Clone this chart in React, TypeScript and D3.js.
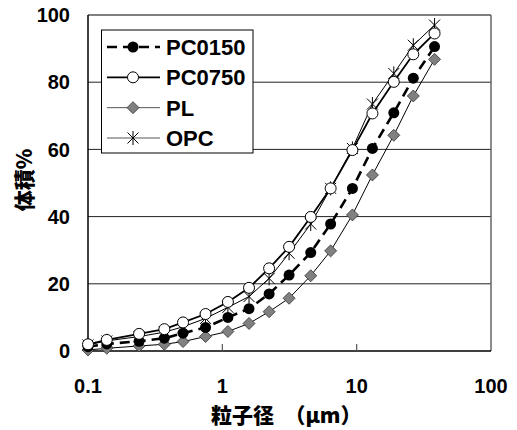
import { useRef, useEffect } from "react";
import * as d3 from "d3";

// particle size (μm), shared by all four series
const sizes = [0.1, 0.138, 0.24, 0.37, 0.51, 0.75, 1.1, 1.58, 2.23, 3.14, 4.55, 6.4, 9.3, 13.1, 18.9, 26.4, 38];

const pc0150 = [1.3, 2.1, 2.9, 3.8, 5.3, 7.0, 10, 12.6, 17, 22.6, 29.3, 37.8, 48.4, 60.3, 70.9, 81.2, 90.6];
const pc0750 = [2.0, 3.3, 5.1, 6.5, 8.5, 11, 14.6, 18.8, 24.6, 31, 39.9, 48.4, 59.8, 70.7, 80.1, 88.3, 94.5];
const pl = [0.3, 0.8, 1.5, 2.0, 2.8, 4.3, 5.8, 8.2, 11.7, 15.7, 22.4, 29.8, 40.5, 52.4, 64.2, 75.9, 86.8];
const opc = [1.8, 3.0, 4.3, 5.6, 7.2, 9.7, 13, 16.2, 21.6, 29.1, 37.8, 48.4, 60.3, 73.5, 82.6, 91, 97];

const xTicks = [0.1, 1, 10, 100];
const xTickLabels = ["0.1", "1", "10", "100"];
const yTicks = [0, 20, 40, 60, 80, 100];

type Marker = "dot" | "circle" | "diamond" | "star";

const series: {
  name: string;
  values: number[];
  marker: Marker;
  width: number;
  dash: string | null;
}[] = [
  { name: "PC0150", values: pc0150, marker: "dot", width: 2.6, dash: "10,6" },
  { name: "PC0750", values: pc0750, marker: "circle", width: 1.8, dash: null },
  { name: "PL", values: pl, marker: "diamond", width: 1, dash: null },
  { name: "OPC", values: opc, marker: "star", width: 1, dash: null },
];

const W = 517;
const H = 430;
const font = "'Liberation Sans', Arial, sans-serif";
const cjk = "'Noto Sans CJK JP', sans-serif";

function drawMarker(
  g: d3.Selection<SVGGElement, unknown, null, undefined>,
  kind: Marker,
  cx: number,
  cy: number
) {
  if (kind === "dot") {
    g.append("circle").attr("cx", cx).attr("cy", cy).attr("r", 5.5).attr("fill", "#000");
  } else if (kind === "circle") {
    g.append("circle")
      .attr("cx", cx)
      .attr("cy", cy)
      .attr("r", 5.5)
      .attr("fill", "#fff")
      .attr("stroke", "#000")
      .attr("stroke-width", 1);
  } else if (kind === "diamond") {
    const s = 6;
    g.append("path")
      .attr("d", `M${cx},${cy - s}L${cx + s},${cy}L${cx},${cy + s}L${cx - s},${cy}Z`)
      .attr("fill", "#808080")
      .attr("stroke", "#333")
      .attr("stroke-width", 0.8);
  } else {
    const s = 7;
    const d = 5.5;
    g.append("path")
      .attr(
        "d",
        `M${cx},${cy - s}L${cx},${cy + s}M${cx - d},${cy - d}L${cx + d},${cy + d}M${cx - d},${cy + d}L${cx + d},${cy - d}`
      )
      .attr("stroke", "#000")
      .attr("stroke-width", 1)
      .attr("fill", "none");
  }
}

export default function App() {
  const svgRef = useRef<SVGSVGElement>(null);

  useEffect(() => {
    if (!svgRef.current) return;
    const svg = d3.select(svgRef.current);
    svg.selectAll("*").remove();

    const x = d3.scaleLog().domain([0.1, 100]).range([88, 491]);
    const y = d3.scaleLinear().domain([0, 100]).range([351, 15]);

    const g = svg.append("g");

    // gridlines
    for (const t of yTicks.slice(1, -1)) {
      g.append("line")
        .attr("x1", x(0.1))
        .attr("x2", x(100))
        .attr("y1", y(t))
        .attr("y2", y(t))
        .attr("stroke", "#222")
        .attr("stroke-width", 1);
    }

    // frame
    g.append("line").attr("x1", x(0.1)).attr("x2", x(100)).attr("y1", y(100)).attr("y2", y(100))
      .attr("stroke", "#555").attr("stroke-width", 1.5);
    g.append("line").attr("x1", x(100)).attr("x2", x(100)).attr("y1", y(100)).attr("y2", y(0))
      .attr("stroke", "#666").attr("stroke-width", 1.5);
    g.append("line").attr("x1", x(0.1)).attr("x2", x(100)).attr("y1", y(0)).attr("y2", y(0))
      .attr("stroke", "#000").attr("stroke-width", 1.5);
    g.append("line").attr("x1", x(0.1)).attr("x2", x(0.1)).attr("y1", y(100)).attr("y2", y(0))
      .attr("stroke", "#000").attr("stroke-width", 1.5);

    // x ticks (inside)
    for (const t of xTicks.slice(1, -1)) {
      g.append("line")
        .attr("x1", x(t))
        .attr("x2", x(t))
        .attr("y1", y(0))
        .attr("y2", y(0) - 7)
        .attr("stroke", "#555")
        .attr("stroke-width", 1.2);
    }

    // tick labels
    xTicks.forEach((t, i) => {
      g.append("text")
        .attr("x", x(t))
        .attr("y", 393)
        .attr("text-anchor", "middle")
        .attr("font-family", font)
        .attr("font-weight", "bold")
        .attr("font-size", 20)
        .text(xTickLabels[i]);
    });
    for (const t of yTicks) {
      g.append("text")
        .attr("x", 70)
        .attr("y", y(t))
        .attr("dy", "0.36em")
        .attr("text-anchor", "end")
        .attr("font-family", font)
        .attr("font-weight", "bold")
        .attr("font-size", 20)
        .text(t);
    }

    // axis titles
    g.append("text")
      .attr("x", 211)
      .attr("y", 423)
      .attr("text-anchor", "start")
      .attr("font-family", cjk)
      .attr("font-weight", 900)
      .attr("font-size", 21)
      .text("粒子径　（μm）");
    g.append("text")
      .attr("transform", `translate(32,180) rotate(-90)`)
      .attr("text-anchor", "middle")
      .attr("font-family", cjk)
      .attr("font-weight", 900)
      .attr("font-size", 21)
      .text("体積%");

    // series lines
    const line = d3
      .line<number>()
      .x((_, i) => x(sizes[i]))
      .y((v) => y(v));

    const order = [2, 3, 0, 1];
    for (const k of order) {
      const s = series[k];
      g.append("path")
        .attr("d", line(s.values))
        .attr("fill", "none")
        .attr("stroke", "#000")
        .attr("stroke-width", s.width)
        .attr("stroke-dasharray", s.dash ?? null);
    }
    for (const k of order) {
      const s = series[k];
      const mg = g.append("g");
      s.values.forEach((v, i) => drawMarker(mg, s.marker, x(sizes[i]), y(v)));
    }

    // legend
    const lg = g.append("g");
    lg.append("rect")
      .attr("x", 101.5)
      .attr("y", 30)
      .attr("width", 151.5)
      .attr("height", 123)
      .attr("fill", "#fff")
      .attr("stroke", "#000")
      .attr("stroke-width", 1);
    const rowY = d3.scaleLinear().domain([0, 3]).range([47, 138]);
    series.forEach((s, i) => {
      const yy = rowY(i);
      lg.append("line")
        .attr("x1", 107)
        .attr("x2", 160)
        .attr("y1", yy)
        .attr("y2", yy)
        .attr("stroke", s.marker === "diamond" || s.marker === "star" ? "#555" : "#000")
        .attr("stroke-width", s.width)
        .attr("stroke-dasharray", s.dash ?? null);
      drawMarker(lg, s.marker, 133, yy);
      lg.append("text")
        .attr("x", 166)
        .attr("y", yy)
        .attr("dy", "0.36em")
        .attr("font-family", font)
        .attr("font-weight", "bold")
        .attr("font-size", 22)
        .text(s.name);
    });
  }, []);

  return (
    <svg
      ref={svgRef}
      width={W}
      height={H}
      viewBox={`0 0 ${W} ${H}`}
      style={{ position: "absolute", left: 0, top: 0, background: "#fff" }}
    />
  );
}
